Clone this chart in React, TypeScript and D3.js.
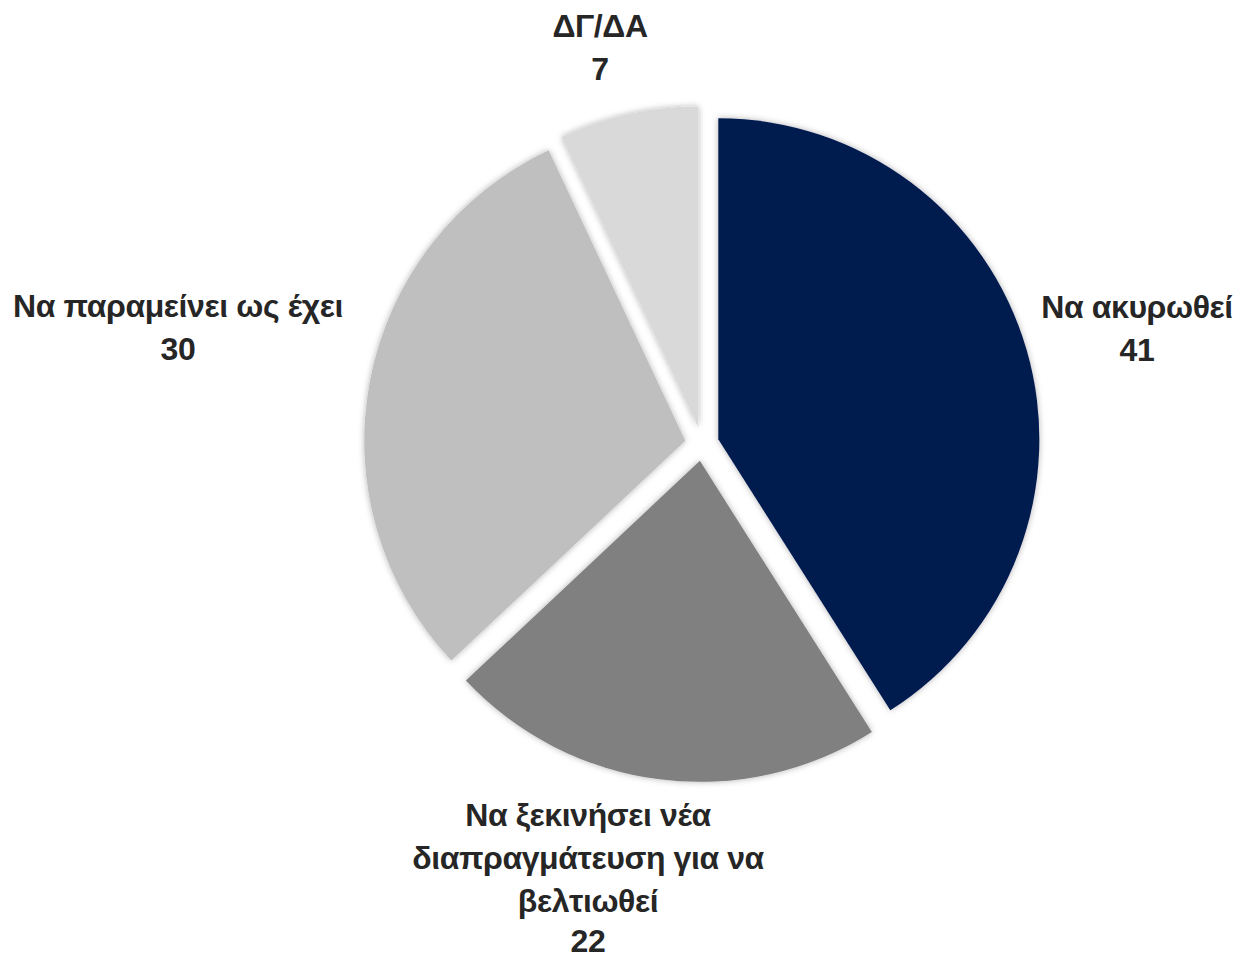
import { useRef, useEffect } from 'react';
import * as d3 from 'd3';

// Survey answers, clockwise from 12 o'clock
const categories = [
  'Να ακυρωθεί',
  'Να ξεκινήσει νέα διαπραγμάτευση για να βελτιωθεί',
  'Να παραμείνει ως έχει',
  'ΔΓ/ΔΑ',
];
const values = [41, 22, 30, 7];
// label text broken into lines the way the original wraps them
const labelLines = [
  ['Να ακυρωθεί'],
  ['Να ξεκινήσει νέα', 'διαπραγμάτευση για να', 'βελτιωθεί'],
  ['Να παραμείνει ως έχει'],
  ['ΔΓ/ΔΑ'],
];
const COLOURS = ['#011A50', '#808080', '#BFBFBF', '#D9D9D9'];

const WIDTH = 1235;
const HEIGHT = 961;
const CENTER = { x: 702, y: 444 };
const RADIUS = 321;
const EXPLODE = 17;
const FONT_SIZE = 32;
const LINE_H = 43;
// label block position (anchor x, first baseline y) relative to pie centre
const LABEL_POS = [
  { x: 435, y: -126 },
  { x: -114, y: 382 },
  { x: -524, y: -127 },
  { x: -102, y: -407 },
];

export default function App() {
  const svgRef = useRef<SVGSVGElement>(null);

  useEffect(() => {
    if (!svgRef.current) return;
    const svg = d3.select(svgRef.current);
    svg.selectAll('*').remove();

    const defs = svg.append('defs');
    const filter = defs.append('filter')
      .attr('id', 'sliceShadow')
      .attr('x', '-10%').attr('y', '-10%')
      .attr('width', '120%').attr('height', '120%');
    filter.append('feDropShadow')
      .attr('dx', 0)
      .attr('dy', 0)
      .attr('stdDeviation', 3)
      .attr('flood-color', '#000')
      .attr('flood-opacity', 0.3);

    const pie = d3.pie<number>().sort(null).value(d => d);
    const arcs = pie(values);
    const arc = d3.arc<d3.PieArcDatum<number>>()
      .innerRadius(0)
      .outerRadius(RADIUS);

    const g = svg.append('g')
      .attr('transform', `translate(${CENTER.x},${CENTER.y})`);

    g.selectAll('path')
      .data(arcs)
      .join('path')
      .attr('d', arc)
      .attr('fill', (_, i) => COLOURS[i])
      .attr('filter', 'url(#sliceShadow)')
      .attr('transform', d => {
        const mid = (d.startAngle + d.endAngle) / 2;
        return `translate(${Math.sin(mid) * EXPLODE},${-Math.cos(mid) * EXPLODE})`;
      });

    // labels: category lines + value
    arcs.forEach((d, i) => {
      const lines = [...labelLines[i], String(d.data)];
      const pos = LABEL_POS[i];
      const last = lines.length - 1;
      const text = g.append('text')
        .attr('x', pos.x)
        .attr('y', pos.y)
        .attr('text-anchor', 'middle')
        .attr('font-family', '"Liberation Sans Narrow", "Arial Narrow", "Liberation Sans", Arial, sans-serif')
        .attr('font-weight', 'bold')
        .attr('font-size', FONT_SIZE)
        .attr('letter-spacing', -0.4)
        .attr('fill', '#262626');
      text.append('title').text(categories[i]);
      lines.forEach((line, j) => {
        // value line sits a touch closer in the long bottom label
        const y = pos.y + j * LINE_H - (j === last && last > 1 ? 3 : 0);
        text.append('tspan')
          .attr('x', pos.x)
          .attr('y', y)
          .text(line);
      });
    });
  }, []);

  return (
    <div style={{ position: 'absolute', left: 0, top: 0, background: '#fff' }}>
      <svg ref={svgRef} width={WIDTH} height={HEIGHT} style={{ display: 'block' }} />
    </div>
  );
}
